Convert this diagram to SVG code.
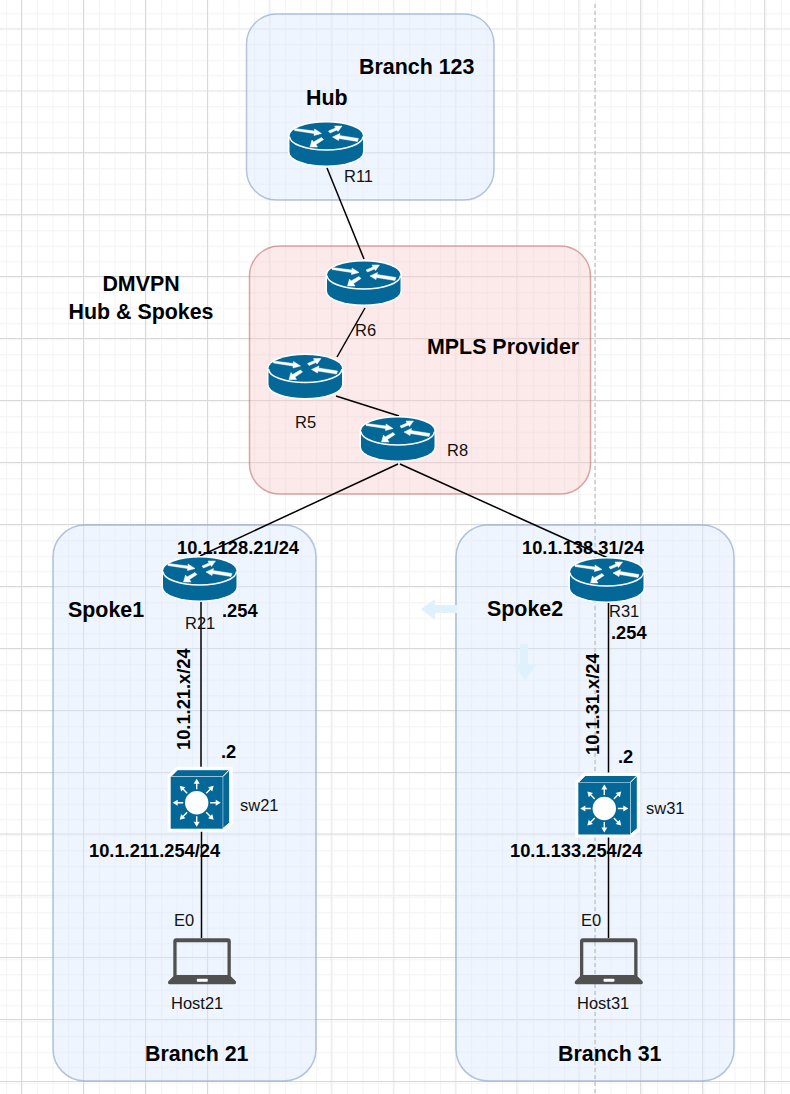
<svg xmlns="http://www.w3.org/2000/svg" xmlns:xlink="http://www.w3.org/1999/xlink" width="790" height="1094" viewBox="0 0 790 1094">
<style>
text{font-family:"Liberation Sans",Arial,Helvetica,sans-serif;fill:#000}
.b{font-weight:700;font-size:21.4px}
.ip{font-weight:700;font-size:18.3px}
.n{font-size:16.5px;fill:#111}
.c{text-anchor:middle}
.blue{fill:#dae8fc;fill-opacity:.45;stroke:#6c8ebf;stroke-opacity:.5;stroke-width:1.5}
.red{fill:#f8cecc;fill-opacity:.42;stroke:#b85450;stroke-opacity:.5;stroke-width:1.5}
.conn{stroke:#000;stroke-width:1.5;fill:none;stroke-linecap:butt}
.ghost{fill:#dff1fb}
.gl{fill:none;stroke:#eeeeee;stroke-width:1.5}
.gm{fill:none;stroke:#d8d8d8;stroke-width:1}
</style>
<defs>
<pattern id="minor" width="15.5" height="15.5" patternUnits="userSpaceOnUse" x="6" y="13.2">
<path d="M0.5 0V15.5M0 0.5H15.5" stroke="#f4f4f4" stroke-width="1.2" fill="none"/>
</pattern>
<g id="router">
<path d="M0,13.5A36.75,13.5 0 0 1 73.5,13.5V29.5A36.75,13.5 0 0 1 0,29.5Z" fill="#036897" stroke="#fff" stroke-width="3" paint-order="stroke"/>
<path d="M0,14A36.75,13.5 0 0 0 73.5,14" fill="none" stroke="#fff" stroke-width="1.5"/>
<path fill="#fff" stroke="#fff" stroke-width=".5" d="M5,6L25,8.5L25,6.5L32,11L24.5,13L24.5,11L5,8ZM39,8.5L46,5.5L45,3.5L52.5,3.5L48.5,9L47.5,7.5L40.5,10.5ZM69,16L50,13L50.5,11L43,14.5L49,18L49.5,16L68,19ZM32,15L24,19.5L22.5,17.5L20.5,24.5L28,24.5L26.5,22L34,17Z"/>
</g>
<path id="ray" fill="#fff" d="M26,2L23,7L25.3,7L25.3,12.5L26.7,12.5L26.7,7L29,7Z"/>
<g id="switch">
<path d="M0,0L7,-7H59V46L52,52H0Z" fill="#fff" stroke="#fff" stroke-width="6"/>
<path d="M0,0L7,-7H59L52,0Z" fill="#036897" stroke="#fff" stroke-width="1"/>
<path d="M52,0L59,-7V46L52,52Z" fill="#036897" stroke="#fff" stroke-width="1"/>
<rect width="52" height="52" fill="#036897"/>
<circle cx="26" cy="26" r="11.7" fill="#fff"/>
<use href="#ray"/>
<use href="#ray" transform="rotate(45 26 26)"/>
<use href="#ray" transform="rotate(90 26 26)"/>
<use href="#ray" transform="rotate(135 26 26)"/>
<use href="#ray" transform="rotate(180 26 26)"/>
<use href="#ray" transform="rotate(225 26 26)"/>
<use href="#ray" transform="rotate(270 26 26)"/>
<use href="#ray" transform="rotate(315 26 26)"/>
</g>
<g id="laptop">
<path fill="#505050" fill-rule="evenodd" d="M3,0H54.500Q57.500,0 57.500,3V38L62.500,43Q63.500,46 61,46H-3.500Q-6,46 -5,43L0,38V3Q0,0 3,0ZM3.300,4V36.700H54.200V4Z"/>
<rect x="23.500" y="40.400" width="11" height="3" rx="1" fill="#fff"/>
</g>
</defs>
<rect width="790" height="1094" fill="#fff"/>
<g id="grid">
<rect width="790" height="1094" fill="url(#minor)"/>
<path class="gl" d="M0 28.700H790M0 90.700H790M0 895.500H790M269.500 0V1094M331.500 0V1094M393.500 0V1094M455.500 0V1094M516.700 0V1094M578.700 0V1094"/>
<path class="gm" d="M21.500 0V1094M83.500 0V1094M145.500 0V1094M207.500 0V1094M640.700 0V1094M702.700 0V1094M764.700 0V1094M0 152.700H790M0 214.700H790M0 276.500H790M0 338.500H790M0 400.500H790M0 462.500H790M0 524.500H790M0 586.500H790M0 648.500H790M0 710.500H790M0 772.500H790M0 834H790M0 957.500H790M0 1019.500H790M0 1081.500H790"/>
</g>
<g id="containers">
<g id="branch123"><rect class="blue" x="246.500" y="14" width="247.500" height="186" rx="30"/></g>
<g id="mpls"><rect class="red" x="249.500" y="246" width="341" height="248" rx="30"/></g>
<g id="branch21"><rect class="blue" x="53" y="525" width="263" height="556" rx="32"/></g>
<g id="branch31"><rect class="blue" x="456" y="525" width="278" height="556" rx="32"/></g>
</g>
<path id="divider" d="M595 4V1094" fill="none" stroke="#bdbdbd" stroke-width="1.200" stroke-dasharray="4 3"/>
<g id="drag-arrows">
<path class="ghost" d="M421,609L435,599V605H457V613H435V620Z"/>
<path class="ghost" d="M520,644H528V664H537L525,680L513,664H520Z"/>
</g>
<g id="connectors">
<path class="conn" d="M327,168L364,259"/>
<path class="conn" d="M365,308L337,357"/>
<path class="conn" d="M336,396L399,416"/>
<path class="conn" d="M398,464L200,556"/>
<path class="conn" d="M400,464L608,558"/>
<path class="conn" d="M201,602V768"/>
<path class="conn" d="M201.500,831V938"/>
<path class="conn" d="M608.500,602V778"/>
<path class="conn" d="M608.500,836V938"/>
</g>
<g id="R11"><use href="#router" transform="translate(289.500,122.500)"/><text class="n" x="344" y="182">R11</text></g>
<g id="R6"><use href="#router" transform="translate(327,261.500)"/><text class="n" x="355" y="336">R6</text></g>
<g id="R5"><use href="#router" transform="translate(268.500,355)"/><text class="n" x="295" y="428">R5</text></g>
<g id="R8"><use href="#router" transform="translate(361,417.500)"/><text class="n" x="447" y="456">R8</text></g>
<g id="R21"><use href="#router" transform="translate(163,557.500)"/><text class="n" x="185" y="629">R21</text></g>
<g id="R31"><use href="#router" transform="translate(570,558.500)"/><text class="n" x="609" y="617">R31</text></g>
<g id="sw21"><use href="#switch" transform="translate(170.700,776.700)"/><text class="n" x="240" y="811">sw21</text></g>
<g id="sw31"><use href="#switch" transform="translate(578.300,782.500)"/><text class="n" x="646" y="814">sw31</text></g>
<g id="Host21"><use href="#laptop" transform="translate(173.300,938.300)"/><text class="n" x="171" y="1009">Host21</text><text class="n" x="174" y="926">E0</text></g>
<g id="Host31"><use href="#laptop" transform="translate(580,938.300)"/><text class="n" x="577" y="1009">Host31</text><text class="n" x="581" y="926">E0</text></g>
<g id="labels">
<text class="b" x="359" y="74">Branch 123</text>
<text class="b" x="306" y="105">Hub</text>
<text class="b c" x="141" y="291">DMVPN</text>
<text class="b c" x="141" y="319">Hub &amp; Spokes</text>
<text class="b" x="427" y="354">MPLS Provider</text>
<text class="ip" x="177" y="554">10.1.128.21/24</text>
<text class="ip" x="522" y="554">10.1.138.31/24</text>
<text class="b" x="68" y="617">Spoke1</text>
<text class="b" x="487" y="616">Spoke2</text>
<text class="ip" x="222" y="617">.254</text>
<text class="ip" x="611" y="639">.254</text>
<text class="ip" x="221" y="758">.2</text>
<text class="ip" x="618" y="763">.2</text>
<text class="ip" transform="translate(190,750) rotate(-90)">10.1.21.x/24</text>
<text class="ip" transform="translate(599,755) rotate(-90)">10.1.31.x/24</text>
<text class="ip" x="89" y="857">10.1.211.254/24</text>
<text class="ip" x="510" y="857">10.1.133.254/24</text>
<text class="b" x="145" y="1061">Branch 21</text>
<text class="b" x="558" y="1061">Branch 31</text>
</g>
</svg>
